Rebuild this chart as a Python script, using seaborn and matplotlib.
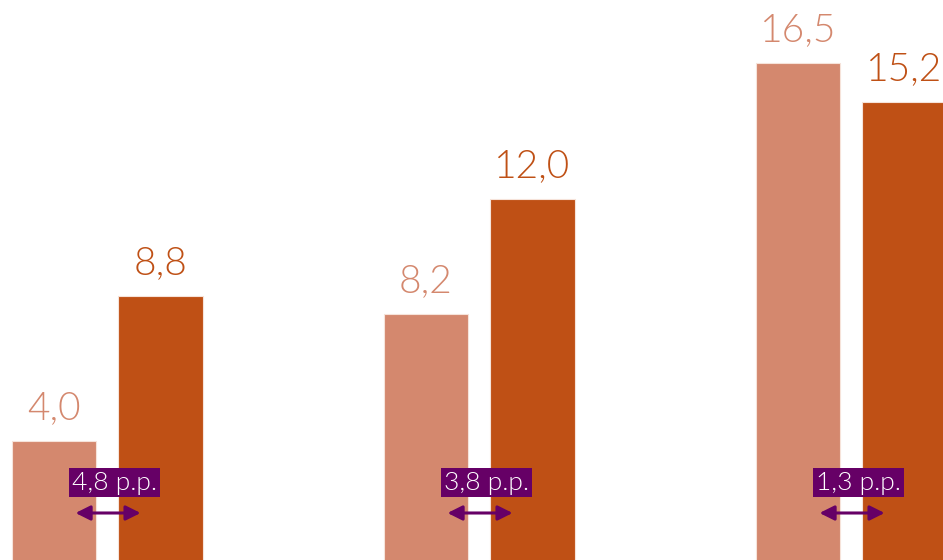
import matplotlib
matplotlib.use("Agg")
import matplotlib.pyplot as plt
import seaborn as sns
import pandas as pd

categories = ["Grupo 1", "Grupo 2", "Grupo 3"]
series = ["Série A", "Série B"]
values_a = [4.0, 8.2, 16.5]
values_b = [8.8, 12.0, 15.2]

light = "#D4886E"
dark = "#BF5015"
purple = "#660066"

sns.set_theme(style="white")
plt.rcParams["font.family"] = ["Lato", "DejaVu Sans"]

df = pd.DataFrame({
    "cat": categories * 2,
    "serie": [series[0]] * 3 + [series[1]] * 3,
    "val": values_a + values_b,
})

fig = plt.figure(figsize=(9.43, 5.6), dpi=100)
ax = fig.add_axes([0, 0, 1, 1])
sns.barplot(data=df, x="cat", y="val", hue="serie", order=categories,
            hue_order=series, palette=[light, dark], width=0.573, gap=0.21,
            saturation=1, legend=False, ax=ax, edgecolor="#F6E3DA",
            linewidth=0.8)

ax.set_xlim(-0.288, 2.247)
ax.set_ylim(0.066, 18.58)
ax.axis("off")


def fmt(v):
    return f"{v:.1f}".replace(".", ",")


w = 0.573
for i in range(len(categories)):
    for j, (vals, col) in enumerate([(values_a, light), (values_b, dark)]):
        x = i + (-w / 4 if j == 0 else w / 4)
        ax.text(x, vals[i] + 0.5, fmt(vals[i]),
                ha="center", va="bottom", fontsize=28, color=col,
                fontweight=300)
    diff = abs(values_b[i] - values_a[i])
    ax.text(i + 0.02, 2.62, fmt(diff) + " p.p.",
            ha="center", va="center", fontsize=19, color="white",
            fontweight=300,
            bbox=dict(boxstyle="square,pad=0.1", fc=purple, ec="none"))
    ax.annotate("", xy=(i + 0.09, 1.62), xytext=(i - 0.085, 1.62),
                arrowprops=dict(arrowstyle="<|-|>", color=purple, lw=2.2,
                                mutation_scale=22, shrinkA=0, shrinkB=0))

fig.savefig("out.png", dpi=100)
